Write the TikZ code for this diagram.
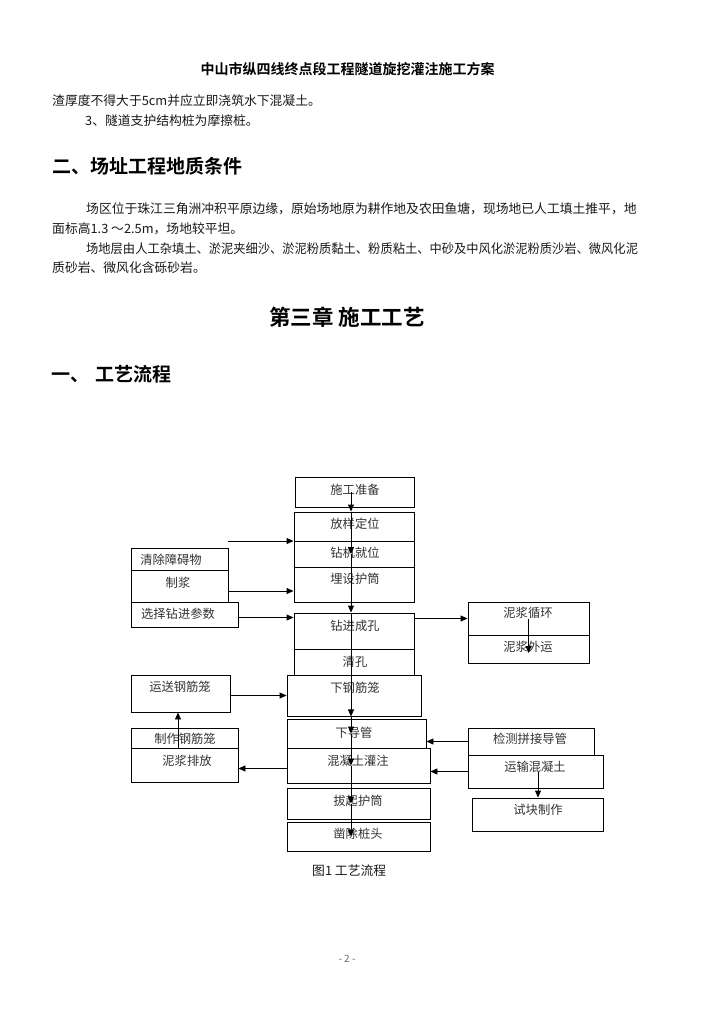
\documentclass[tikz,border=0pt]{standalone}
\usepackage{fontspec}
\newfontfamily\cjk{Noto Sans CJK SC}[BoldFont={Noto Sans CJK SC Bold}]
\usetikzlibrary{arrows.meta}

\begin{document}
\begin{tikzpicture}[x=1pt, y=-1pt,
    flowbox/.style={draw, line width=0.9pt, inner sep=0pt},
    boxlbl/.style={font=\cjk\fontsize{12.3}{14}\selectfont, text=black!80, inner sep=0pt},
    flowarr/.style={line width=0.9pt, -{Triangle[length=7pt, width=6pt]}},
    bodytxt/.style={font=\cjk\fontsize{12.8}{15}\selectfont, text=black!90, anchor=west, inner sep=0pt},
    headtxt/.style={font=\cjk\bfseries\fontsize{19}{22}\selectfont, anchor=west, inner sep=0pt}]
    \pgfmathsetmacro{\spx}{351}
    % Page
    \fill[white] (0,0) rectangle (724,1024);
    \useasboundingbox (0,0) rectangle (724,1024);

    % Text of the page
    \node[font=\cjk\bfseries\fontsize{14}{16}\selectfont, inner sep=0pt] (header) at (347.5,69) {中山市纵四线终点段工程隧道旋挖灌注施工方案};
    \node[bodytxt] (para1) at (52,101) {渣厚度不得大于5cm并应立即浇筑水下混凝土。};
    \node[bodytxt] (para2) at (85,121) {3、隧道支护结构桩为摩擦桩。};
    \node[headtxt] (sec2) at (52,166) {二、场址工程地质条件};
    \node[bodytxt] (para3) at (86,209) {场区位于珠江三角洲冲积平原边缘，原始场地原为耕作地及农田鱼塘，现场地已人工填土推平，地};
    \node[bodytxt] (para4) at (52,229) {面标高1.3 ～2.5m，场地较平坦。};
    \node[bodytxt] (para5) at (86,249) {\scalebox{0.958}[1]{场地层由人工杂填土、淤泥夹细沙、淤泥粉质黏土、粉质粘土、中砂及中风化淤泥粉质沙岩、微风化泥}};
    \node[bodytxt] (para6) at (52,268) {质砂岩、微风化含砾砂岩。};
    \node[font=\cjk\bfseries\fontsize{21.5}{24}\selectfont, inner sep=0pt] (chap3) at (347,317) {第三章 施工工艺};
    \node[headtxt] (sec1) at (51,374) {一、\hspace{6pt}工艺流程};

    % Boxes of the flow chart
    \foreach \name/\xa/\ya/\xb/\yb/\tx/\ty/\txt in {
        sgzb/295/477/414/507/355/490/施工准备,
        fydw/294/512/414/541/355/524/放样定位,
        zjjw/294/541/414/567/355/553/钻机就位,
        msht/294/567/414/602/355/579/埋设护筒,
        zjch/294/613/414/649/355/626/钻进成孔,
        qk/294/649/414/675/355/662/清孔,
        xgjl/287/675/421/716/355/688/下钢筋笼,
        xdg/287/719/426/748/354/733/下导管,
        hntgz/287/748/430/783/358/761/混凝土灌注,
        bqht/287/788/430/819/358/801/拔起护筒,
        zczt/287/822/430/851/358/834/凿除桩头,
        qczaw/131/548/228/570/171/560/清除障碍物,
        zj/131/570/228/602/178/583/制浆,
        xzcs/131/602/238/627/178/614/选择钻进参数,
        ysgj/131/675/230/712/180/687/运送钢筋笼,
        zzgj/131/728/238/748/185/739/制作钢筋笼,
        njpf/131/748/238/782/187/761/泥浆排放,
        njxh/468/602/589/635/528/613/泥浆循环,
        njwy/468/635/589/663/528/647/泥浆外运,
        jcpj/468/728/594/755/530/739/检测拼接导管,
        ysnt/468/755/603/788/535/767/运输混凝土,
        skzz/472/798/603/831/538/810/试块制作}{
        \pgfmathsetmacro{\bw}{\xb-\xa}
        \pgfmathsetmacro{\bh}{\yb-\ya}
        \node[flowbox, minimum width=\bw pt, minimum height=\bh pt] (\name) at ({(\xa+\xb)/2},{(\ya+\yb)/2}) {};
        \node[boxlbl] (\name-t) at (\tx,\ty) {\txt};
    }

    % Main line
    \coordinate (spine) at (\spx,0);
    \foreach \a/\b in {sgzb.center/fydw.north, fydw.north/zjjw.center, zjjw.center/zjch.north,
        zjch.north/xgjl.south, xgjl.south/xdg.center, xdg.center/hntgz.center,
        hntgz.center/bqht.center, bqht.center/zczt.center}{
        \draw[flowarr] (spine |- \a) -- (spine |- \b);
    }

    % Side arrows
    \coordinate (feed) at (228,541);
    \draw[flowarr] (feed) -- (feed -| zjjw.west);
    \draw[flowarr] ([yshift=-5pt]zj.east) -- ([yshift=-5pt]zj.east -| msht.west);
    \draw[flowarr] ([yshift=-3pt]xzcs.east) -- ([yshift=-3pt]xzcs.east -| zjch.west);
    \draw[flowarr] (zjch.east |- njxh.west) -- (njxh.west);
    \draw[flowarr] (njxh.center) -- ([yshift=-4pt]njwy.center);
    \draw[flowarr] (ysgj.east |- xgjl.west) -- (xgjl.west);
    \draw[flowarr] ([xshift=-6.5pt]zzgj.south) -- ([xshift=-6.5pt]zzgj.south |- ysgj.south);
    \draw[flowarr] ([yshift=-3pt]hntgz.west) -- ([yshift=-3pt]hntgz.west -| njpf.east);
    \draw[flowarr] (jcpj.west) -- (jcpj.west -| xdg.east);
    \draw[flowarr] (ysnt.west) -- (ysnt.west -| hntgz.east);
    \draw[flowarr] ([xshift=2.5pt]ysnt.center) -- ([xshift=2.5pt]ysnt.center |- skzz.north);

    % Caption and page number
    \node[bodytxt] (caption) at (312,871) {图1 工艺流程};
    \node[font=\cjk\fontsize{10}{12}\selectfont, text=black!60, inner sep=0pt] (pageno) at (347,959) {- 2 -};
\end{tikzpicture}
\end{document}
